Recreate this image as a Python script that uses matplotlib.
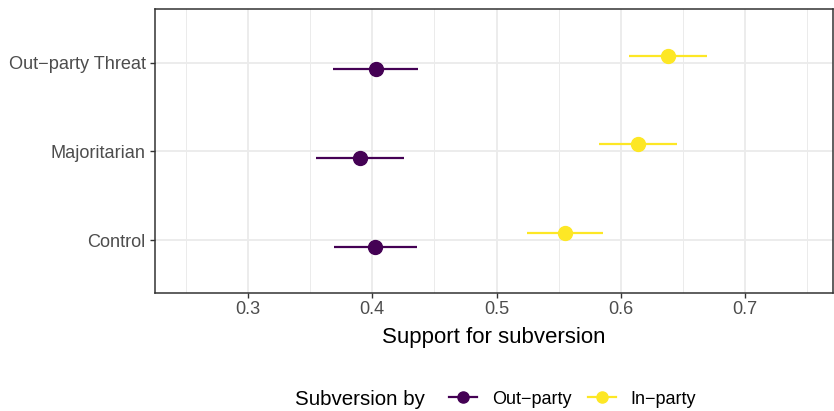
import matplotlib
matplotlib.use("Agg")
import matplotlib.pyplot as plt
from matplotlib.lines import Line2D
import numpy as np

plt.rcParams['font.family'] = ['Liberation Sans', 'DejaVu Sans']

categories = ["Control", "Majoritarian", "Out\u2212party Threat"]
groups = ["Out\u2212party", "In\u2212party"]
colors = ["#440154", "#FDE725"]

out_est = [0.4022, 0.3901, 0.4027]
out_lo = [0.3689, 0.3547, 0.3681]
out_hi = [0.4357, 0.4255, 0.4365]

in_est = [0.5550, 0.6140, 0.6379]
in_lo = [0.5247, 0.5826, 0.6066]
in_hi = [0.5853, 0.6454, 0.6694]

series = [(out_est, out_lo, out_hi), (in_est, in_lo, in_hi)]
offsets = [-0.077, 0.077]

W, H = 834, 411
fig = plt.figure(figsize=(W / 100, H / 100), dpi=100)
ax = fig.add_axes([155 / W, 1 - 293.3 / H, (833 - 155) / W, (293.3 - 9.3) / H])

ypos = np.arange(1, len(categories) + 1)
for (est, lo, hi), off, c in zip(series, offsets, colors):
    y = ypos + off
    ax.hlines(y, lo, hi, color=c, lw=1.6, zorder=3)
    ax.plot(est, y, 'o', color=c, ms=10, zorder=4, ls='none')

ax.set_xlim(0.2252, 0.7706)
ax.set_ylim(0.4, 3.6)
ax.set_yticks(ypos)
ax.set_yticklabels(categories)
major = [0.3, 0.4, 0.5, 0.6, 0.7]
ax.set_xticks(major)
ax.set_xticklabels(["0.3", "0.4", "0.5", "0.6", "0.7"])
ax.set_xticks([0.25, 0.35, 0.45, 0.55, 0.65, 0.75], minor=True)
ax.tick_params(axis='both', which='major', length=3.4, width=1.0, color='#333333',
               labelcolor='#4D4D4D', labelsize=13.1)
ax.tick_params(axis='x', which='major', pad=2.5)
ax.tick_params(axis='y', which='major', pad=3.2)
ax.tick_params(axis='x', which='minor', length=0)
ax.grid(True, which='major', color='#EBEBEB', lw=1.3, zorder=0)
ax.grid(True, which='minor', axis='x', color='#EBEBEB', lw=0.7, zorder=0)
ax.set_axisbelow(True)
for s in ax.spines.values():
    s.set_color('#333333')
    s.set_linewidth(1.1)

fig.text((155 + 833) / 2 / W, 1 - 337 / H, "Support for subversion", ha='center', va='center',
         fontsize=16, color='black')

fig.text(295 / W, 1 - 399 / H, "Subversion by", ha='left', va='center', fontsize=14.8, color='black')
handles = [Line2D([0], [0], color=c, lw=1.6, marker='o', ms=8) for c in colors]
leg = fig.legend(handles, groups, loc='center left', bbox_to_anchor=(449 / W, 1 - 399 / H),
                 ncol=2, frameon=False, fontsize=13, handlelength=1.55, handletextpad=0.85,
                 columnspacing=0.87, borderpad=0, borderaxespad=0)
for t in leg.get_texts():
    t.set_color('black')

fig.savefig("out.png", dpi=100)
